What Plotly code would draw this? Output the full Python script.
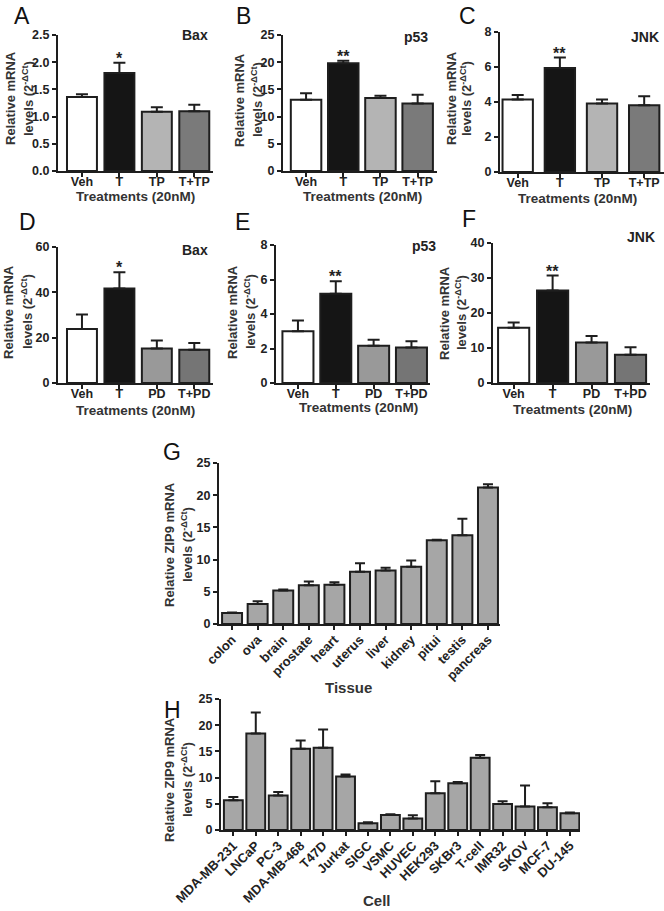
import plotly.graph_objects as go

W, H = 664, 911

# ---------------- data ----------------
treat_tp = ["Veh", "T", "TP", "T+TP"]
treat_pd = ["Veh", "T", "PD", "T+PD"]

bax_tp = [1.36, 1.80, 1.09, 1.10]
bax_tp_err = [0.05, 0.19, 0.08, 0.12]
p53_tp = [13.1, 19.8, 13.4, 12.4]
p53_tp_err = [1.2, 0.45, 0.45, 1.6]
jnk_tp = [4.15, 5.94, 3.92, 3.81]
jnk_tp_err = [0.25, 0.6, 0.22, 0.52]

bax_pd = [23.8, 41.7, 15.2, 14.7]
bax_pd_err = [6.4, 7.2, 3.6, 3.0]
p53_pd = [3.0, 5.18, 2.16, 2.06]
p53_pd_err = [0.62, 0.72, 0.34, 0.36]
jnk_pd = [15.8, 26.4, 11.6, 8.1]
jnk_pd_err = [1.5, 4.3, 1.8, 2.1]

tissues = ["colon", "ova", "brain", "prostate", "heart", "uterus", "liver",
           "kidney", "pitui", "testis", "pancreas"]
tissue_vals = [1.7, 3.1, 5.2, 6.0, 6.1, 8.1, 8.3, 8.9, 13.0, 13.8, 21.2]
tissue_err = [0.1, 0.45, 0.15, 0.6, 0.4, 1.35, 0.45, 0.95, 0.1, 2.55, 0.5]

cells = ["MDA-MB-231", "LNCaP", "PC-3", "MDA-MB-468", "T47D", "Jurkat", "SIGC",
         "VSMC", "HUVEC", "HEK293", "SKBr3", "T-cell", "IMR32", "SKOV", "MCF-7",
         "DU-145"]
cell_vals = [5.7, 18.4, 6.6, 15.5, 15.7, 10.2, 1.3, 2.85, 2.2, 7.0, 8.9, 13.8,
             4.95, 4.5, 4.35, 3.2]
cell_err = [0.6, 4.0, 0.65, 1.6, 3.5, 0.4, 0.2, 0.15, 0.6, 2.3, 0.25, 0.5,
            0.55, 4.0, 0.75, 0.12]

col_tp = ["#ffffff", "#151515", "#b4b4b4", "#7a7a7a"]
col_pd = ["#ffffff", "#151515", "#999999", "#757575"]
col_g = "#a6a6a6"

FONT = "Liberation Sans, Arial, Helvetica, sans-serif"
LINE = "#1e1e1e"


def xd(px):
    return px / W


def yd(py):
    return 1 - py / H


fig = go.Figure()

panels = [
    # cats, vals, errs, colors, xpx, ypx, yrange, dtick, fmt, xrange, width
    (treat_tp, bax_tp, bax_tp_err, col_tp, (58, 213), (35, 171), (0, 2.5), 0.5, ".1f", (-0.64, 3.5), 0.8),
    (treat_tp, p53_tp, p53_tp_err, col_tp, (283, 437), (35, 171), (0, 25), 5, "d", (-0.62, 3.52), 0.82),
    (treat_tp, jnk_tp, jnk_tp_err, col_tp, (500, 664), (32, 172), (0, 8), 2, "d", (-0.42, 3.47), 0.72),
    (treat_pd, bax_pd, bax_pd_err, col_pd, (58, 213), (247, 383), (0, 60), 20, "d", (-0.64, 3.5), 0.8),
    (treat_pd, p53_pd, p53_pd_err, col_pd, (276, 430), (245, 383), (0, 8), 2, "d", (-0.58, 3.49), 0.82),
    (treat_pd, jnk_pd, jnk_pd_err, col_pd, (493, 650), (243, 383), (0, 40), 10, "d", (-0.53, 3.5), 0.8),
    (tissues, tissue_vals, tissue_err, [col_g] * len(tissues), (219, 500), (463, 624), (0, 25), 5, "d", (-0.51, 10.47), 0.78),
    (cells, cell_vals, cell_err, [col_g] * len(cells), (221, 580), (699, 830), (0, 25), 5, "d", (-0.55, 15.45), 0.84),
]

layout = {}
for i, (cats, vals, errs, cols, xp, yp, yr, dt, fmt, xr, bw) in enumerate(panels, start=1):
    xa = "x" if i == 1 else f"x{i}"
    ya = "y" if i == 1 else f"y{i}"
    fig.add_trace(go.Bar(
        x=cats, y=vals, xaxis=xa, yaxis=ya, width=bw,
        marker=dict(color=cols, line=dict(color=LINE, width=2)),
        error_y=dict(type="data", symmetric=False, array=errs,
                     arrayminus=[0] * len(errs), color=LINE,
                     thickness=2, width=6 if i <= 6 else 5),
        showlegend=False, hoverinfo="skip",
    ))
    rot = -45 if i >= 7 else 0
    layout["xaxis" if i == 1 else f"xaxis{i}"] = dict(
        domain=[xd(xp[0]), xd(xp[1])], anchor=ya, type="category",
        range=list(xr), showline=True, linecolor=LINE, linewidth=2,
        ticks="outside", ticklen=4, tickwidth=1.5, tickcolor=LINE,
        showgrid=False, zeroline=False, tickangle=rot, automargin=False,
        ticklabelstandoff=-6 if i <= 6 else -3,
        tickfont=dict(family=FONT, size=12.5 if i <= 6 else 13, color="#222", weight="bold"),
    )
    layout["yaxis" if i == 1 else f"yaxis{i}"] = dict(
        domain=[yd(yp[1]), yd(yp[0])], anchor=xa, range=list(yr),
        dtick=dt, tickformat=fmt, showline=True, linecolor=LINE, linewidth=2,
        ticks="outside", ticklen=4, tickwidth=1.5, tickcolor=LINE,
        showgrid=False, zeroline=False, automargin=False,
        tickfont=dict(family=FONT, size=12.5, color="#222", weight="bold"),
    )

ann = []


def txt(x, y, t, size=13, bold=True, angle=0, color="#222"):
    ann.append(dict(x=xd(x), y=yd(y), xref="paper", yref="paper", text=f"<b>{t}</b>" if bold else t,
                    showarrow=False, textangle=angle, xanchor="center", yanchor="middle",
                    font=dict(family=FONT, size=size, color=color)))


# panel letters
for L, x, y in [("A", 22, 16), ("B", 243, 16), ("C", 467, 16), ("D", 28, 222),
                ("E", 242, 222), ("F", 469, 219), ("G", 172, 452), ("H", 172, 710)]:
    txt(x, y, L, size=23, bold=False, color="#111")

# gene labels
for t, x, y in [("Bax", 195, 35), ("p53", 416, 37), ("JNK", 645, 37),
                ("Bax", 195, 250), ("p53", 424, 246), ("JNK", 641, 237)]:
    txt(x, y, t, size=14)

sup = "levels (2<sup>-ΔCt</sup>)"
# y titles
for x1, x2, y in [(10, 28, 98), (240, 257, 100), (451, 466, 98),
                  (9, 27, 312), (233, 250, 312), (444, 461, 313)]:
    txt(x1, y, "Relative mRNA", size=13, angle=-90, color="#333")
    txt(x2, y, sup, size=13, angle=-90, color="#333")
for y in [545, 780]:
    txt(169, y, "Relative ZIP9 mRNA", size=13, angle=-90, color="#333")
    txt(187, y, sup, size=13, angle=-90, color="#333")

# x titles
for x, y in [(135, 197), (362, 197), (577, 198), (135, 410), (358, 408), (572, 409)]:
    txt(x, y, "Treatments (20nM)", size=13.5, color="#333")
txt(348, 687, "Tissue", size=15, color="#333")
txt(377, 900, "Cell", size=15, color="#333")

# significance markers
for xa, ya, val, err, mark in [("x", "y", bax_tp[1], bax_tp_err[1], "*"),
                               ("x2", "y2", p53_tp[1], p53_tp_err[1], "**"),
                               ("x3", "y3", jnk_tp[1], jnk_tp_err[1], "**"),
                               ("x4", "y4", bax_pd[1], bax_pd_err[1], "*"),
                               ("x5", "y5", p53_pd[1], p53_pd_err[1], "**"),
                               ("x6", "y6", jnk_pd[1], jnk_pd_err[1], "**")]:
    ann.append(dict(x="T", y=val + err, xref=xa, yref=ya, text=f"<b>{mark}</b>",
                    showarrow=False, yanchor="bottom", xanchor="center", yshift=-6,
                    font=dict(family=FONT, size=16, color="#222")))

fig.update_layout(
    width=W, height=H, margin=dict(l=0, r=0, t=0, b=0, autoexpand=False),
    paper_bgcolor="white", plot_bgcolor="white", bargap=0.2,
    annotations=ann, **layout,
)

fig.write_html("out.html", config={"displayModeBar": False},
               post_script="document.body.style.margin='0';document.body.style.overflow='hidden';")
